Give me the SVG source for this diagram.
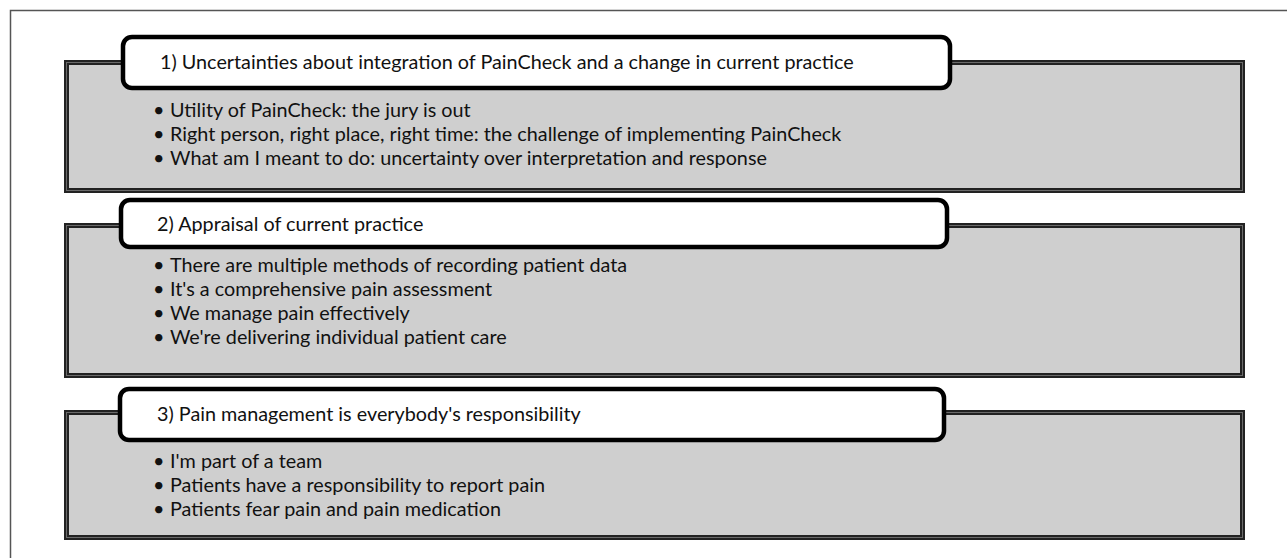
<svg xmlns="http://www.w3.org/2000/svg" width="1287" height="558" viewBox="0 0 1287 558">
  <style>
    .frame { fill: none; stroke: #555; stroke-width: 1.5; }
    .panel { fill: #cfcfcf; stroke: #222; stroke-width: 5; }
    .panel-inner { fill: none; stroke: #6a6a6a; stroke-width: 1; }
    .title { fill: #fff; stroke: #000; stroke-width: 4.5; }
    text { font-family: "Lato", "Liberation Sans", sans-serif; font-size: 19.8px; fill: #111; }
  </style>

  <!-- outer frame (only left and top edges fall inside the canvas) -->
  <path class="frame" d="M10.5,558 V10.5 H1287"/>

  <g id="theme1">
    <rect class="panel" x="66.5" y="62.5" width="1176" height="128"/>
    <rect class="panel-inner" x="66.5" y="62.5" width="1176" height="128"/>
    <rect class="title" x="123" y="37" width="827" height="51" rx="9"/>
    <text x="160" y="69">1) Uncertainties about integration of PainCheck and a change in current practice</text>
    <text x="153" y="117">•<tspan x="170">Utility of PainCheck: the jury is out</tspan></text>
    <text x="153" y="141">•<tspan x="170">Right person, right place, right time: the challenge of implementing PainCheck</tspan></text>
    <text x="153" y="165">•<tspan x="170">What am I meant to do: uncertainty over interpretation and response</tspan></text>
  </g>

  <g id="theme2">
    <rect class="panel" x="66.5" y="225.5" width="1176" height="150"/>
    <rect class="panel-inner" x="66.5" y="225.5" width="1176" height="150"/>
    <rect class="title" x="121" y="200" width="826" height="47" rx="9"/>
    <text x="157" y="231">2) Appraisal of current practice</text>
    <text x="153" y="272">•<tspan x="170">There are multiple methods of recording patient data</tspan></text>
    <text x="153" y="296">•<tspan x="170">It's a comprehensive pain assessment</tspan></text>
    <text x="153" y="320">•<tspan x="170">We manage pain effectively</tspan></text>
    <text x="153" y="344">•<tspan x="170">We're delivering individual patient care</tspan></text>
  </g>

  <g id="theme3">
    <rect class="panel" x="66.5" y="412.5" width="1176" height="125"/>
    <rect class="panel-inner" x="66.5" y="412.5" width="1176" height="125"/>
    <rect class="title" x="120" y="389" width="824" height="51" rx="9"/>
    <text x="157" y="421">3) Pain management is everybody's responsibility</text>
    <text x="153" y="468">•<tspan x="170">I'm part of a team</tspan></text>
    <text x="153" y="492">•<tspan x="170">Patients have a responsibility to report pain</tspan></text>
    <text x="153" y="516">•<tspan x="170">Patients fear pain and pain medication</tspan></text>
  </g>

  <g id="connectors"/>
</svg>
